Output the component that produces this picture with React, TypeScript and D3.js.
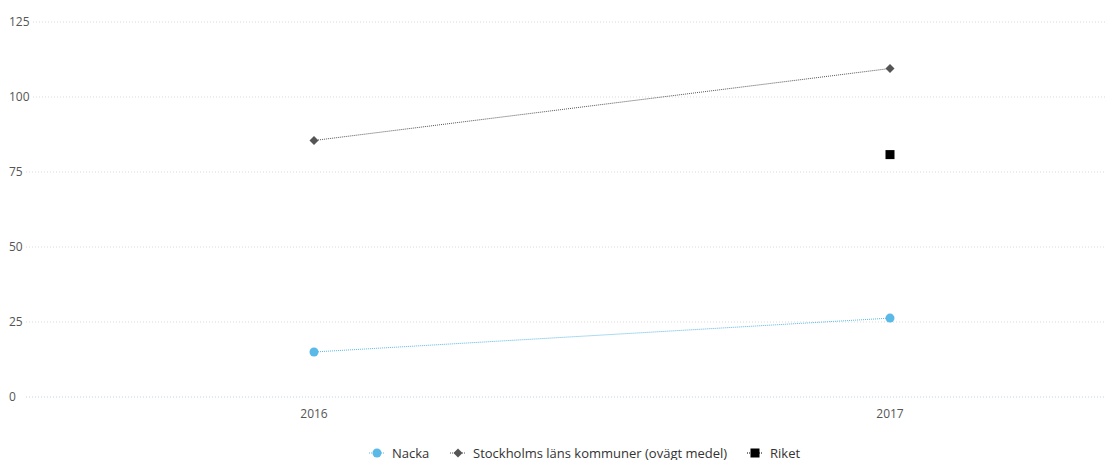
import React from "react";
import * as d3 from "d3";

const years = ["2016", "2017"];
const nacka = [15, 26.3];
const stockholm = [85.5, 109.5];
const riket: (number | null)[] = [null, 80.8];
const yTicks = [0, 25, 50, 75, 100, 125];

const W = 1110;
const H = 460;

export default function App() {
  const x = d3.scaleBand<string>().domain(years).range([26, 1178]);
  const cx = (d: string) => (x(d) as number) + x.bandwidth() / 2;
  const y = d3.scaleLinear().domain([0, 125]).range([397, 22]);
  const font = "'Open Sans', 'DejaVu Sans', sans-serif";
  const line = d3
    .line<number>()
    .x((_, i) => cx(years[i]))
    .y((d) => y(d));
  const diamond = "M0,-4.5L4.5,0L0,4.5L-4.5,0Z";

  const legend = [
    { label: "Nacka", kind: "circle", color: "#5ab9e6", ix: 377 },
    { label: "Stockholms läns kommuner (ovägt medel)", kind: "diamond", color: "#555", ix: 458 },
    { label: "Riket", kind: "square", color: "#000", ix: 755 },
  ];

  return (
    <svg width={W} height={H} style={{ position: "absolute", left: 0, top: 0, fontFamily: font }}>
      {yTicks.map((t) => {
        const label = String(t);
        const x1 = Math.max(26, 9 + label.length * 7 + 3);
        return (
          <g key={t}>
            <line x1={x1} x2={1106} y1={y(t)} y2={y(t)} stroke={t === 0 ? "#c4d2de" : "#d9d9d9"} strokeDasharray="1,2" strokeWidth={1} />
            <text x={9} y={y(t) + 4} fontSize={12} fill="#555">{label}</text>
          </g>
        );
      })}
      {years.map((yr) => (
        <text key={yr} x={cx(yr)} y={418} fontSize={12} fill="#555" textAnchor="middle">{yr}</text>
      ))}
      <path d={line(nacka) || ""} fill="none" stroke="#5ab9e6" strokeWidth={1} strokeDasharray="1,1" />
      <path d={line(stockholm) || ""} fill="none" stroke="#555" strokeWidth={1} strokeDasharray="1,1" />
      {nacka.map((v, i) => (
        <circle key={"n" + i} cx={cx(years[i])} cy={y(v)} r={4.5} fill="#5ab9e6" />
      ))}
      {stockholm.map((v, i) => (
        <path key={"s" + i} d={diamond} transform={`translate(${cx(years[i])},${y(v)})`} fill="#555" />
      ))}
      {riket.map((v, i) =>
        v == null ? null : (
          <rect key={"r" + i} x={cx(years[i]) - 4.5} y={y(v) - 4.5} width={9} height={9} fill="#000" />
        )
      )}
      {legend.map((l) => (
        <g key={l.label} transform={`translate(${l.ix},453)`}>
          <line x1={-8} x2={8} y1={0} y2={0} stroke={l.color} strokeDasharray="1,1" />
          {l.kind === "circle" && <circle r={4.5} fill={l.color} />}
          {l.kind === "diamond" && <path d={diamond} fill={l.color} />}
          {l.kind === "square" && <rect x={-4.5} y={-4.5} width={9} height={9} fill={l.color} />}
          <text x={15} y={4.5} fontSize={13} fill="#333">{l.label}</text>
        </g>
      ))}
    </svg>
  );
}
